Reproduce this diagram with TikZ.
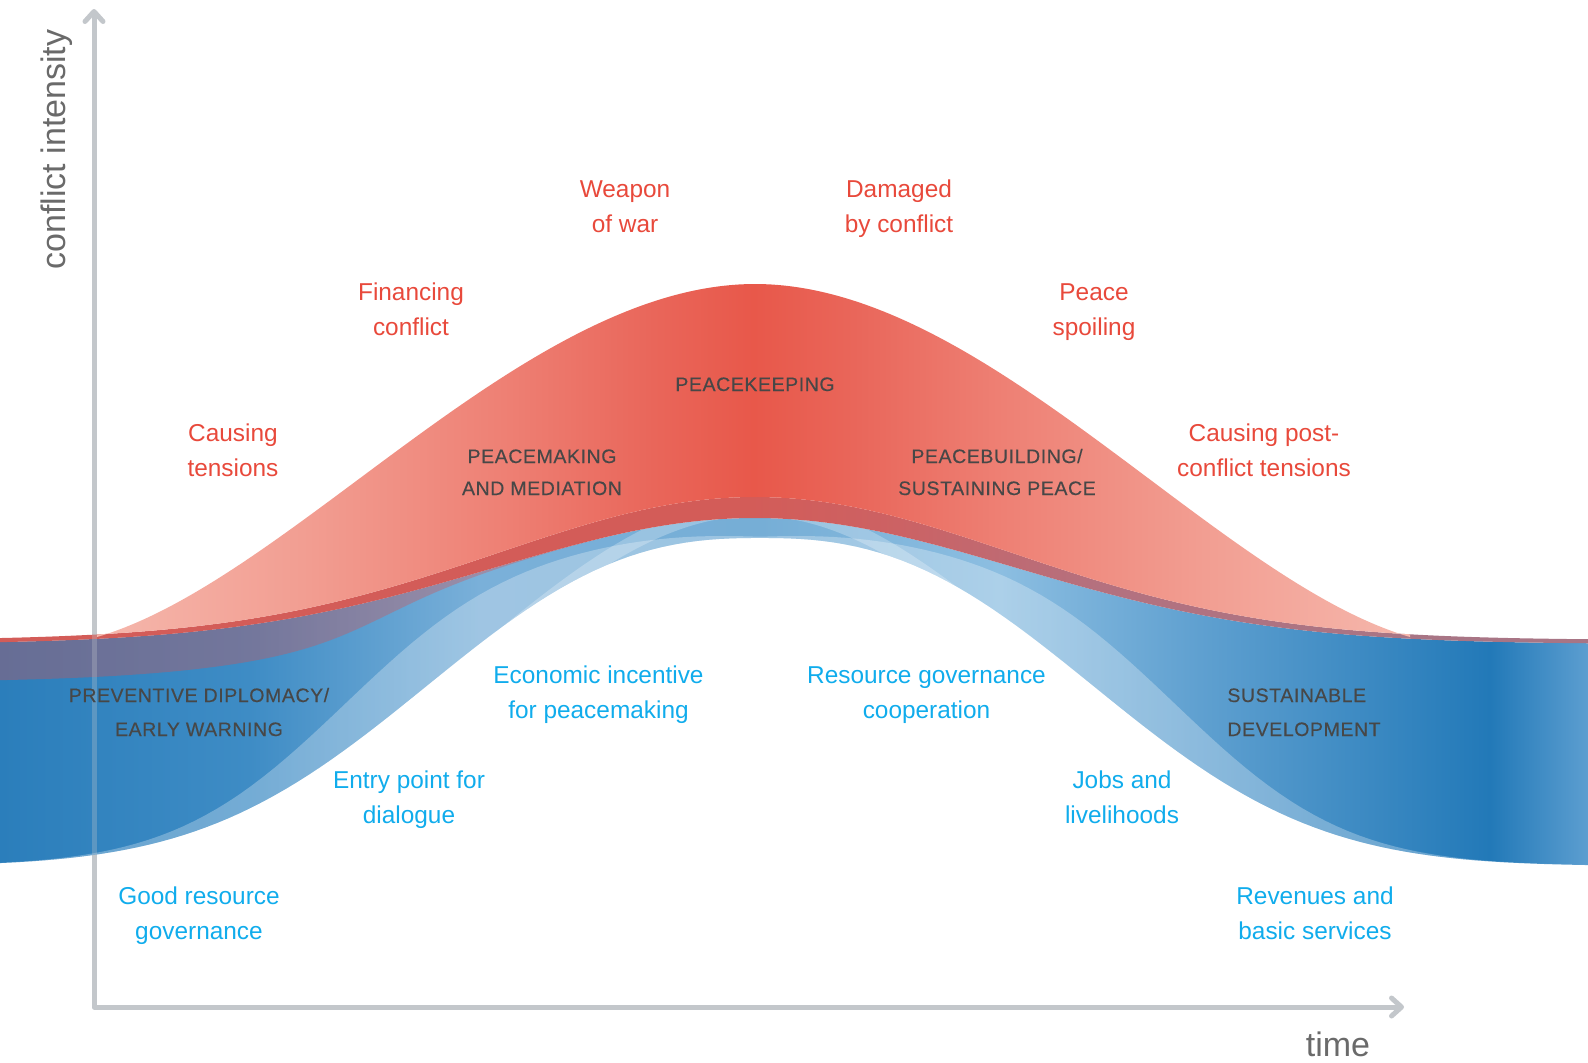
\documentclass[tikz,border=0pt]{standalone}
\usepackage{fontspec}
\setmainfont{Liberation Sans}
\newfontfamily\capsfont[LetterSpace=3,FakeBold=0.3]{Liberation Sans}
\usetikzlibrary{arrows.meta}
\definecolor{axisgray}{HTML}{C3C7CB}
\definecolor{redtext}{HTML}{E8493B}
\definecolor{bluetext}{HTML}{10ACEC}
\definecolor{darktext}{HTML}{474747}
\definecolor{axistext}{HTML}{6A6A6A}
\definecolor{stripred}{RGB}{215,80,80}
\definecolor{rA}{RGB}{245,183,172}
\definecolor{rB}{RGB}{242,158,146}
\definecolor{rC}{RGB}{238,128,116}
\definecolor{rD}{RGB}{233,102,90}
\definecolor{rE}{RGB}{232,88,74}
\definecolor{bA}{RGB}{43,126,187}
\definecolor{bB}{RGB}{62,140,197}
\definecolor{bC}{RGB}{122,176,217}
\definecolor{bD}{RGB}{118,174,214}
\definecolor{bE}{RGB}{140,190,225}
\definecolor{bF}{RGB}{95,160,208}
\definecolor{bG}{RGB}{34,121,184}
\definecolor{bH}{RGB}{92,158,208}
\definecolor{gA}{RGB}{211,92,88}
\definecolor{gB}{RGB}{204,98,100}
\definecolor{gC}{RGB}{180,113,127}
\definecolor{gD}{RGB}{168,117,133}
\pgfdeclarehorizontalshading{redshade}{100bp}{color(0bp)=(rA); color(25bp)=(rA); color(32.8bp)=(rB); color(40.5bp)=(rC); color(46.2bp)=(rD); color(50bp)=(rE); color(53.8bp)=(rD); color(59.5bp)=(rC); color(67.2bp)=(rB); color(75bp)=(rA); color(100bp)=(rA)}
\pgfdeclarehorizontalshading{blueshade}{100bp}{color(0bp)=(bA); color(25bp)=(bA); color(32.87bp)=(bB); color(40.11bp)=(bC); color(48.93bp)=(bD); color(56.49bp)=(bE); color(62.78bp)=(bF); color(71.91bp)=(bG); color(75bp)=(bH); color(100bp)=(bH)}
\pgfdeclarehorizontalshading{gapshade}{100bp}{color(0bp)=(gA); color(25bp)=(gA); color(48.6bp)=(gA); color(53.3bp)=(gB); color(59.6bp)=(gC); color(69.1bp)=(gD); color(75bp)=(gD); color(100bp)=(gD)}
\begin{document}
\begin{tikzpicture}[x=0.5pt,y=-0.5pt,
  declare function={
    Tf(\t)=644-126*exp(0-((\t-755)/368)^2);
    Pf(\t)=640-143*exp(0-((\t-755)/365)^2);
    Bf(\t)=866-328*exp(0-(abs(\t-760)/409)^2*sqrt(abs(\t-760)/409));
    Mf(\t)=Bf(\t)-55*exp(0-((abs(\t-760)-340)/175)^2);
    Sf(\t)=870-370*exp(0-((\t-755)/390)^2);
    Lf(\t)=Tf(\t)+38/(1+exp((\t-380)/40));
  },
  axisline/.style={draw=axisgray, line width=2.5pt, line cap=round, line join=round,
    arrows={Straight Barb[length=5pt,width=9pt,round]-Straight Barb[length=5pt,width=9pt,round]}},
  redlab/.style={text=redtext, font=\fontsize{12.2}{17.5}\selectfont, align=center, inner sep=0pt, anchor=base},
  bluelab/.style={text=bluetext, font=\fontsize{12.2}{17.5}\selectfont, align=center, inner sep=0pt, anchor=base},
  caplab/.style={text=darktext, font=\capsfont\fontsize{9.75}{16}\selectfont, align=center, inner sep=0pt, anchor=base},
  axislab/.style={text=axistext, font=\fontsize{17}{20}\selectfont, inner sep=0pt, anchor=base}
]
\useasboundingbox (0,0) rectangle (1588,1062);
% axes
\coordinate (O) at (94,1007);
\coordinate (Ytip) at (94,9);
\coordinate (Xtip) at (1404,1007);
\draw[axisline] (Ytip) -- (O) -- (Xtip);
% blue band
\shade[shading=blueshade] plot[domain=0:1588,samples=140] (\x,{Tf(\x)}) -- plot[domain=1588:0,samples=140] (\x,{Bf(\x)}) -- cycle;
% lighter lower part of the band
\fill[white, fill opacity=0.28] plot[domain=0:1588,samples=140] (\x,{Mf(\x)}) -- plot[domain=1588:0,samples=140] (\x,{Bf(\x)}) -- cycle;
% light diagonal streaks inside the band
\begin{scope}
  \clip plot[domain=0:1588,samples=140] (\x,{Tf(\x)}) -- plot[domain=1588:0,samples=140] (\x,{Bf(\x)}) -- cycle;
  \fill[white, fill opacity=0.25] plot[domain=470:1040,samples=90] (\x,{Sf(\x)}) -- plot[domain=1040:470,samples=90] (\x,{Sf(\x)+16}) -- cycle;
\end{scope}
% dark gap between red and blue
\shade[shading=gapshade] plot[domain=0:1588,samples=140] (\x,{Pf(\x)}) -- plot[domain=1588:0,samples=140] (\x,{Tf(\x)}) -- cycle;
% translucent red strip over blue (left)
\fill[stripred, fill opacity=0.35] plot[domain=0:600,samples=70] (\x,{Tf(\x)}) -- plot[domain=600:0,samples=70] (\x,{Lf(\x)}) -- cycle;
% red shape
\shade[shading=redshade] (97,637) .. controls (292,580) and (525,284) .. (755,284) .. controls (985,284) and (1215,580) .. (1410,637) -- plot[domain=1410:97,samples=140] (\x,{Pf(\x)}) -- cycle;
% axis seen through the blue band
\coordinate (Ya) at (94,600);
\coordinate (Yb) at (94,880);
\draw[draw=axisgray, line width=2.5pt, draw opacity=0.3] (Ya) -- (Yb);
% axis labels
\node[axislab, rotate=90] (ylab) at (65,149.5) {conflict intensity};
\node[axislab] (xlab) at (1338,1056) {time};
% red labels (anchored at the baseline of the last line)
\node[redlab] (weapon) at (625,232) {Weapon\\of war};
\node[redlab] (damaged) at (899,232) {Damaged\\by conflict};
\node[redlab] (financing) at (411,335) {Financing\\conflict};
\node[redlab] (spoiling) at (1094,335) {Peace\\spoiling};
\node[redlab] (causing) at (233,476) {Causing\\tensions};
\node[redlab] (causingpost) at (1264,476) {Causing post-\\conflict tensions};
% dark labels
\node[caplab] (keeping) at (755,391) {PEACEKEEPING};
\node[caplab] (making) at (542,495) {PEACEMAKING\\AND MEDIATION};
\node[caplab] (building) at (997,495) {PEACEBUILDING/\\SUSTAINING PEACE};
\node[caplab, font=\capsfont\fontsize{9.75}{17}\selectfont] (preventive) at (199,736) {PREVENTIVE DIPLOMACY/\\EARLY WARNING};
\node[caplab, font=\capsfont\fontsize{9.75}{17}\selectfont, align=left, anchor=base west] (sustainable) at (1227,736) {SUSTAINABLE\\DEVELOPMENT};
% blue labels
\node[bluelab] (economic) at (598.5,718) {Economic incentive\\for peacemaking};
\node[bluelab] (resource) at (926.5,718) {Resource governance\\cooperation};
\node[bluelab] (entry) at (409,823) {Entry point for\\dialogue};
\node[bluelab] (jobs) at (1122,823) {Jobs and\\livelihoods};
\node[bluelab] (good) at (199,939) {Good resource\\governance};
\node[bluelab] (revenues) at (1315,939) {Revenues and\\basic services};
\end{tikzpicture}
\end{document}
